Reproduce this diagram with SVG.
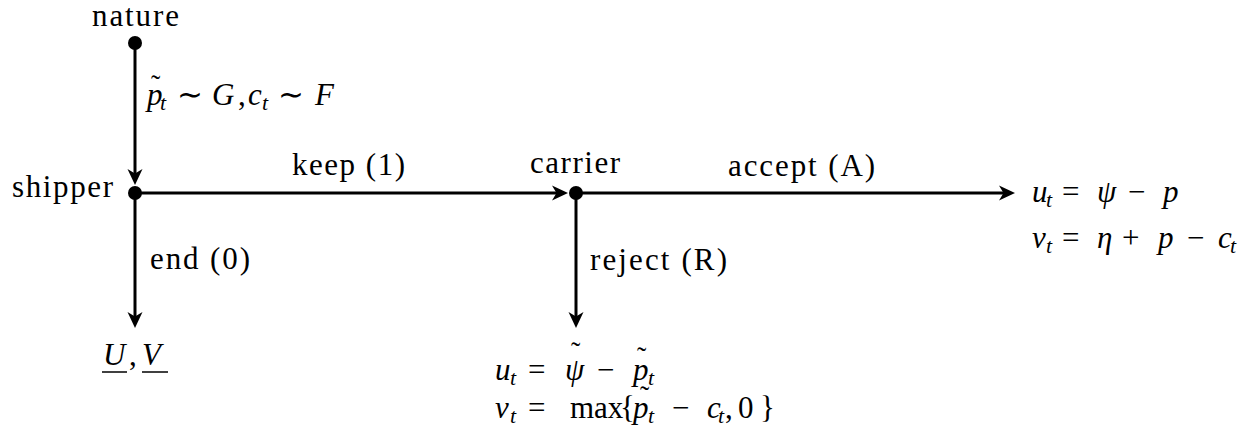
<svg xmlns="http://www.w3.org/2000/svg" width="1255" height="437" viewBox="0 0 1255 437">
<style>
text{font-family:'Liberation Serif','Times New Roman',Times,serif;font-size:31px;fill:#000}
.i{font-style:italic}
.s{font-size:22px;font-style:italic}
.tl{font-size:28px;font-style:normal}
.conn line{stroke:#000;stroke-width:3;fill:none}
.dot{fill:#000}
.ul{stroke:#000;stroke-width:1.5}
</style>
<defs>
<marker id="ah" markerUnits="userSpaceOnUse" viewBox="-1 -9 20 18" markerWidth="20" markerHeight="18" refX="10" refY="0" orient="auto">
<path d="M0,-7.5 L16,0 L0,7.5 L4.5,0 z" fill="#000"/>
</marker>
</defs>
<rect width="1255" height="437" fill="#fff"/>
<g id="connectors" class="conn">
<line x1="135" y1="43" x2="135" y2="179" marker-end="url(#ah)"/>
<line x1="135" y1="193" x2="562" y2="193" marker-end="url(#ah)"/>
<line x1="576" y1="193" x2="1009" y2="193" marker-end="url(#ah)"/>
<line x1="135" y1="193" x2="135" y2="322" marker-end="url(#ah)"/>
<line x1="576" y1="193" x2="576" y2="322" marker-end="url(#ah)"/>
</g>
<g id="labels">
<text x="292" y="175" textLength="113">keep (1)</text>
<text x="728" y="176" textLength="147">accept (A)</text>
<text x="150" y="269" textLength="100">end (0)</text>
<text x="590" y="270" textLength="137">reject (R)</text>
<text y="105"><tspan class="i" x="147">p</tspan><tspan class="tl" x="151" y="94">˜</tspan><tspan class="s" x="160" y="110">t</tspan><tspan x="177" y="105">∼</tspan><tspan class="i" x="212">G</tspan><tspan x="238">,</tspan><tspan class="i" x="248">c</tspan><tspan class="s" x="262" y="110">t</tspan><tspan x="278" y="105">∼</tspan><tspan class="i" x="315">F</tspan></text>
</g>
<g id="nature">
<circle class="dot" cx="135" cy="43" r="7"/>
<text x="92" y="26" textLength="87">nature</text>
</g>
<g id="shipper">
<circle class="dot" cx="135" cy="193" r="7"/>
<text x="12" y="197" textLength="101">shipper</text>
</g>
<g id="carrier">
<circle class="dot" cx="576" cy="193" r="7"/>
<text x="530" y="173" textLength="90">carrier</text>
</g>
<g id="accept-payoff">
<text y="202"><tspan class="i" x="1032">u</tspan><tspan class="s" x="1046" y="207">t</tspan><tspan x="1062" y="202">=</tspan><tspan class="i" x="1097">ψ</tspan><tspan x="1128">−</tspan><tspan class="i" x="1163">p</tspan></text>
<text y="248"><tspan class="i" x="1032">v</tspan><tspan class="s" x="1046" y="253">t</tspan><tspan x="1062" y="248">=</tspan><tspan class="i" x="1097">η</tspan><tspan x="1122">+</tspan><tspan class="i" x="1158">p</tspan><tspan x="1187">−</tspan><tspan class="i" x="1218">c</tspan><tspan class="s" x="1230" y="253">t</tspan></text>
</g>
<g id="end-payoff">
<text y="365"><tspan class="i" x="103">U</tspan><tspan x="129">,</tspan><tspan class="i" x="142">V</tspan></text>
<line class="ul" x1="102" y1="372" x2="127" y2="372"/>
<line class="ul" x1="142" y1="372" x2="168" y2="372"/>
</g>
<g id="reject-payoff">
<text y="380"><tspan class="i" x="495">u</tspan><tspan class="s" x="510" y="385">t</tspan><tspan x="528" y="380">=</tspan><tspan class="i" x="565">ψ</tspan><tspan class="tl" x="571" y="361">˜</tspan><tspan x="597" y="380">−</tspan><tspan class="i" x="633">p</tspan><tspan class="tl" x="637" y="366">˜</tspan><tspan class="s" x="648" y="385">t</tspan></text>
<text y="418"><tspan class="i" x="495">v</tspan><tspan class="s" x="510" y="423">t</tspan><tspan x="528" y="418">=</tspan><tspan x="570">max</tspan><tspan x="620">{</tspan><tspan class="i" x="633">p</tspan><tspan class="tl" x="640" y="405">˜</tspan><tspan class="s" x="648" y="423">t</tspan><tspan x="672" y="418">−</tspan><tspan class="i" x="707">c</tspan><tspan class="s" x="718" y="423">t</tspan><tspan x="725" y="418">,</tspan><tspan x="738">0</tspan><tspan x="760">}</tspan></text>
</g>
</svg>
